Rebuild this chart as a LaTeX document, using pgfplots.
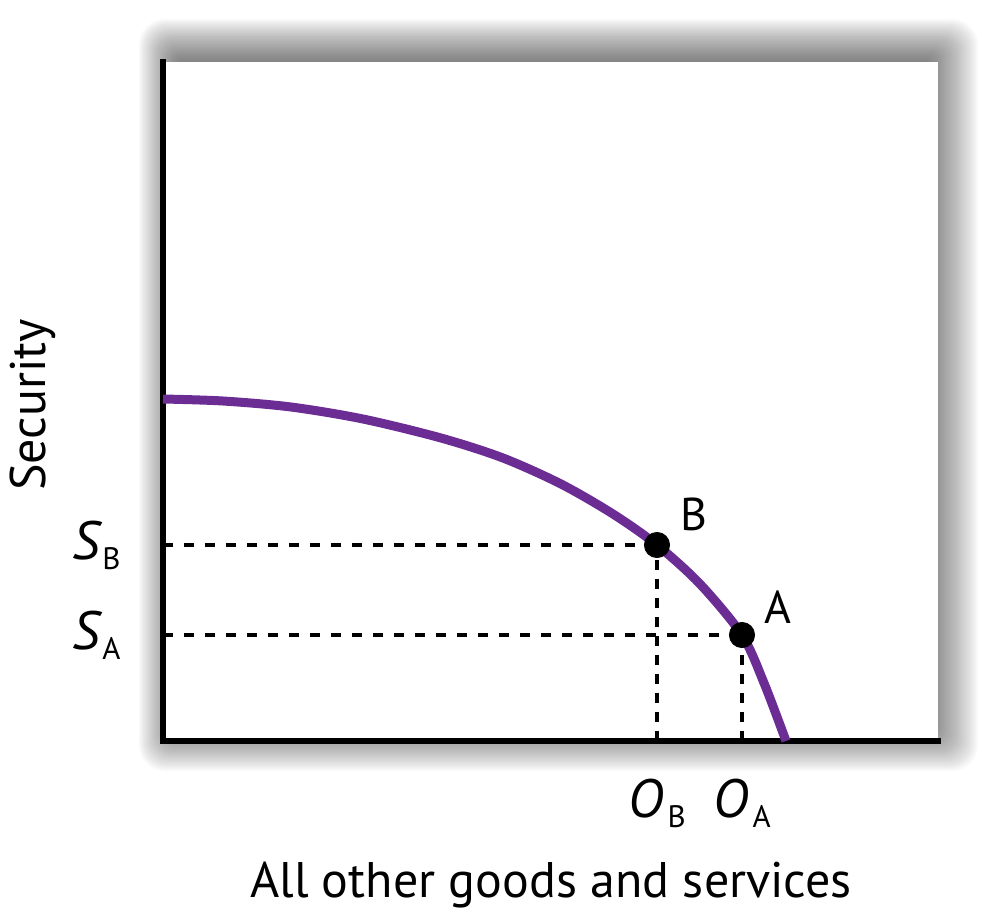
\documentclass[border=0pt]{standalone}
\usepackage{fontspec}
\setmainfont{PT Sans}
\usepackage{pgfplots}
\pgfplotsset{compat=1.18}
\definecolor{ppf}{RGB}{107,45,148}
\newcommand{\sub}[1]{\raisebox{-5pt}{\fontsize{15.5}{15.5}\selectfont #1}}
\begin{document}
\begin{tikzpicture}
\path[use as bounding box] (-81.5pt,-85.5pt) rectangle (409.5pt,370.5pt);
\begin{scope}[x=0.5pt,y=0.5pt]
\foreach \i in {1,...,30}{
  \pgfmathsetmacro{\r}{1+12*\i/30}
  \fill[black,opacity=0.022,rounded corners=\r pt] ({20-44*\i/30},{20-50*\i/30}) rectangle ({760+55*\i/30},{675+47*\i/30});
}
\end{scope}
\begin{axis}[
  x=0.5pt, y=0.5pt,
  xmin=0, xmax=775, ymin=0, ymax=679,
  enlargelimits=false,
  axis lines=left,
  axis line style={line width=3pt,-,line cap=rect},
  axis background/.style={fill=white},
  major tick length=0pt,
  xtick={494,579},
  xticklabels={\textit{O}\hspace{2pt}\sub{B},\textit{O}\hspace{2pt}\sub{A}},
  ytick={106,196},
  yticklabels={\textit{S}\sub{A},\textit{S}\sub{B}},
  tick label style={font=\fontsize{27}{27}\selectfont, inner sep=0pt},
  xticklabel style={yshift=-19pt},
  yticklabel style={xshift=-21pt},
  clip=false,
]
\addplot[black, line width=1.8pt, dash pattern=on 5.2pt off 5.3pt] coordinates {(0,196) (494,196)};
\addplot[black, line width=1.8pt, dash pattern=on 5.2pt off 5.3pt] coordinates {(0,106) (579,106)};
\addplot[black, line width=1.8pt, dash pattern=on 5pt off 4.5pt] coordinates {(494,0) (494,196)};
\addplot[black, line width=1.8pt, dash pattern=on 5pt off 4.5pt] coordinates {(579,0) (579,106)};
\addplot[ppf, line width=4.5pt, smooth] coordinates {
(0,342) (60,340) (128,334) (200,322) (278,303) (340,283) (398,257) (450,227) (494,196) (537,157) (579,106) (601,58) (623,0)};
\addplot[only marks, mark=*, mark size=6.3pt, black] coordinates {(494,196) (579,106)};
\node[font=\fontsize{23}{23}\selectfont] at (axis cs:531,227) {B};
\node[font=\fontsize{23}{23}\selectfont] at (axis cs:615,134) {A};
\node[font=\fontsize{25}{25}\selectfont, anchor=base] at (axis cs:388,-156) {All other goods and services};
\node[font=\fontsize{25}{25}\selectfont, anchor=base, rotate=90] at (axis cs:-117,336) {Security};
\end{axis}
\end{tikzpicture}
\end{document}
